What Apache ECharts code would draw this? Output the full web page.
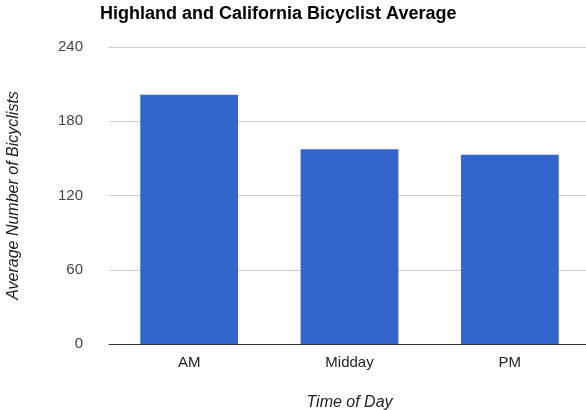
<!DOCTYPE html>
<html>
<head>
<meta charset="utf-8">
<script src="https://cdn.jsdelivr.net/npm/echarts@6/dist/echarts.min.js"></script>
<style>html,body{margin:0;padding:0;background:#fff}#c{width:586px;height:410px}</style>
</head>
<body>
<div id="c"></div>
<script>
var categories = ['AM', 'Midday', 'PM'];
var values = [201.5, 157.3, 153];
var yTicks = [0, 60, 120, 180, 240];
var chart = echarts.init(document.getElementById('c'), null, {renderer: 'canvas'});
chart.setOption({
  animation: false,
  title: {
    text: 'Highland and California Bicyclist Average',
    left: 95, top: 0,
    textStyle: {fontFamily: 'Liberation Sans, Arial', fontWeight: 'bold', fontSize: 18, color: '#000'}
  },
  grid: {left: 109, right: -4, top: 47, bottom: 66, outerBoundsMode: 'none', containLabel: false},
  xAxis: {
    type: 'category',
    data: categories,
    name: 'Time of Day',
    nameLocation: 'middle',
    nameGap: 51,
    nameTextStyle: {fontFamily: 'Liberation Sans, Arial', fontStyle: 'italic', fontSize: 16, color: '#222'},
    axisLine: {lineStyle: {color: '#333', width: 1}},
    axisTick: {show: false},
    axisLabel: {fontFamily: 'Liberation Sans, Arial', fontSize: 15, color: '#222', margin: 11}
  },
  yAxis: {
    type: 'value',
    min: yTicks[0], max: yTicks[yTicks.length - 1], interval: 60,
    name: 'Average Number of Bicyclists',
    nameLocation: 'middle',
    nameGap: 87,
    nameTextStyle: {fontFamily: 'Liberation Sans, Arial', fontStyle: 'italic', fontSize: 16, color: '#222'},
    axisLine: {show: false},
    axisTick: {show: false},
    splitLine: {lineStyle: {color: '#ccc', width: 1}},
    axisLabel: {fontFamily: 'Liberation Sans, Arial', fontSize: 15, color: '#444', margin: 26}
  },
  series: [{
    type: 'bar',
    data: values,
    barCategoryGap: '39%',
    itemStyle: {color: '#3366CC'}
  }]
});
</script>
</body>
</html>
